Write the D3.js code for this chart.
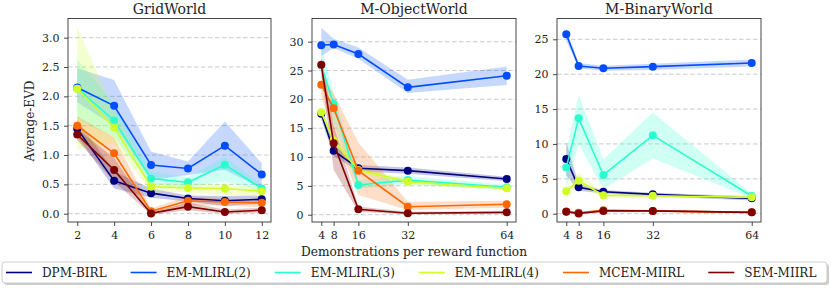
<!DOCTYPE html>
<html><head><meta charset="utf-8">
<script src="https://cdn.jsdelivr.net/npm/d3@7"></script>
<style>body{margin:0;background:#fff}svg text{font-family:"DejaVu Serif",serif;fill:#222}</style>
</head><body><svg id="c" width="831" height="288"></svg>
<script>
const seriesNames = ["DPM-BIRL","EM-MLIRL(2)","EM-MLIRL(3)","EM-MLIRL(4)","MCEM-MIIRL","SEM-MIIRL"];
const seriesColors = ["#000080","#004dff","#29ffce","#ceff29","#ff6800","#800000"];
const panelTitles = ["GridWorld","M-ObjectWorld","M-BinaryWorld"];

const gridX = [2,4,6,8,10,12];
const gridYTicks = [0,0.5,1,1.5,2,2.5,3];
const gridMean = [
  [1.45,0.56,0.35,0.26,0.22,0.245],
  [2.15,1.84,0.83,0.77,1.16,0.67],
  [2.13,1.59,0.60,0.535,0.835,0.43],
  [2.13,1.47,0.46,0.44,0.43,0.385],
  [1.50,1.03,0.04,0.22,0.20,0.185],
  [1.35,0.745,0.005,0.12,0.03,0.06]];
const gridLow = [
  [1.32,0.43,0.27,0.21,0.13,0.17],
  [1.90,1.50,0.57,0.66,0.75,0.43],
  [1.62,1.30,0.50,0.45,0.55,0.38],
  [1.10,1.20,0.38,0.36,0.32,0.31],
  [1.30,0.72,0.00,0.14,0.14,0.11],
  [1.25,0.55,-0.02,0.06,0.00,0.02]];
const gridHigh = [
  [1.60,0.72,0.43,0.31,0.30,0.31],
  [2.48,2.28,1.06,0.89,1.57,0.86],
  [2.63,1.88,0.72,0.62,0.97,0.49],
  [3.18,1.75,0.53,0.51,0.50,0.45],
  [1.66,1.30,0.09,0.30,0.26,0.25],
  [1.45,0.95,0.03,0.19,0.07,0.10]];

const objX = [4,8,16,32,64];
const objYTicks = [0,5,10,15,20,25,30];
const objMean = [
  [17.5,11.1,8.04,7.64,6.19],
  [29.4,29.5,27.86,22.08,24.1],
  [25.9,19.2,5.15,6.0,4.75],
  [17.75,12.9,7.75,5.73,4.57],
  [22.55,18.45,7.63,1.39,1.8],
  [26.0,12.4,0.93,0.24,0.41]];
const objLow = [
  [16.5,10.2,7.5,7.1,5.8],
  [27.5,28.9,27.05,21.1,22.5],
  [23.5,16.0,4.5,5.3,4.3],
  [17.0,11.5,7.2,5.2,4.3],
  [20.5,14.0,3.4,0.8,1.2],
  [24.5,7.8,0.5,0.05,0.2]];
const objHigh = [
  [18.5,12.0,8.6,8.2,6.6],
  [32.4,30.5,29.0,23.4,25.7],
  [29.5,21.0,6.0,6.7,5.2],
  [18.5,14.0,8.3,6.2,4.9],
  [24.5,21.0,12.5,2.25,2.4],
  [27.5,15.5,1.4,0.5,0.6]];

const binX = [4,8,16,32,64];
const binYTicks = [0,5,10,15,20,25];
const binMean = [
  [7.84,3.78,3.15,2.77,2.2],
  [25.72,21.18,20.84,21.08,21.6],
  [6.64,13.67,5.55,11.23,2.53],
  [3.2,4.73,2.63,2.58,2.34],
  [0.33,0.12,0.5,0.38,0.19],
  [0.29,0.02,0.4,0.4,0.19]];
const binLow = [
  [5.5,3.3,2.9,2.5,1.9],
  [24.8,20.8,20.5,20.6,21.1],
  [3.5,10.0,3.5,7.9,2.2],
  [2.8,3.8,2.4,2.35,2.1],
  [0.15,0.0,0.3,0.25,0.1],
  [0.15,-0.05,0.25,0.25,0.1]];
const binHigh = [
  [10.3,4.3,3.4,3.0,2.5],
  [26.5,21.6,21.2,21.5,22.1],
  [9.0,17.1,7.8,14.5,2.9],
  [3.6,5.9,2.9,2.8,2.6],
  [0.5,0.25,0.65,0.5,0.3],
  [0.45,0.1,0.55,0.55,0.3]];

const svg = d3.select("#c");
const plotTop = 18.5, plotBottom = 222;
const panels = [
  {x0:68, x1:271, xd:[1.5,12.5], yd:[-0.1415,3.327], xs:gridX, yt:gridYTicks, fmt:d3.format(".1f"), m:gridMean, lo:gridLow, hi:gridHigh},
  {x0:312, x1:516, xd:[1,67], yd:[-1.267,34.02], xs:objX, yt:objYTicks, fmt:d3.format("d"), m:objMean, lo:objLow, hi:objHigh},
  {x0:557, x1:761, xd:[1,67], yd:[-1.19,27.98], xs:binX, yt:binYTicks, fmt:d3.format("d"), m:binMean, lo:binLow, hi:binHigh}
];

panels.forEach((p,pi)=>{
  const x = d3.scaleLinear().domain(p.xd).range([p.x0,p.x1]);
  const y = d3.scaleLinear().domain(p.yd).range([plotBottom,plotTop]);
  const g = svg.append("g");
  const cid = "clip"+pi;
  g.append("clipPath").attr("id",cid).append("rect").attr("x",p.x0).attr("y",plotTop).attr("width",p.x1-p.x0).attr("height",plotBottom-plotTop);
  g.append("g").selectAll("line").data(p.yt).join("line")
    .attr("x1",p.x0).attr("x2",p.x1).attr("y1",d=>y(d)).attr("y2",d=>y(d))
    .attr("stroke","#c4c4c4").attr("stroke-width",0.9).attr("stroke-dasharray","4.5,2.5");
  const plot = g.append("g").attr("clip-path",`url(#${cid})`);
  const area = d3.area().x(d=>x(d.x)).y0(d=>y(d.lo)).y1(d=>y(d.hi));
  const line = d3.line().x(d=>x(d.x)).y(d=>y(d.v));
  seriesNames.forEach((s,si)=>{
    const pts = p.xs.map((xv,i)=>({x:xv,lo:p.lo[si][i],hi:p.hi[si][i]}));
    plot.append("path").attr("d",area(pts)).attr("fill",seriesColors[si]).attr("fill-opacity",0.22).attr("stroke","none");
  });
  seriesNames.forEach((s,si)=>{
    const pts = p.xs.map((xv,i)=>({x:xv,v:p.m[si][i]}));
    plot.append("path").attr("d",line(pts)).attr("fill","none").attr("stroke",seriesColors[si]).attr("stroke-width",1.6);
    plot.append("g").selectAll("circle").data(pts).join("circle")
      .attr("cx",d=>x(d.x)).attr("cy",d=>y(d.v)).attr("r",4).attr("fill",seriesColors[si]);
  });
  const ya = d3.axisLeft(y).tickValues(p.yt).tickFormat(p.fmt).tickSize(4).tickPadding(4.5);
  const xa = d3.axisBottom(x).tickValues(p.xs).tickFormat(d3.format("d")).tickSize(4).tickPadding(5.5);
  const gy = g.append("g").attr("transform",`translate(${p.x0},0)`).call(ya);
  const gx = g.append("g").attr("transform",`translate(0,${plotBottom})`).call(xa);
  [gy,gx].forEach(a=>{
    a.select(".domain").remove();
    a.selectAll("line").attr("stroke","#333").attr("stroke-width",0.9);
    a.selectAll("text").attr("font-size",11).attr("font-family","DejaVu Serif").attr("fill","#222");
  });
  g.append("rect").attr("x",p.x0).attr("y",plotTop).attr("width",p.x1-p.x0).attr("height",plotBottom-plotTop)
    .attr("fill","none").attr("stroke","#333").attr("stroke-width",0.9);
  g.append("text").attr("x",(p.x0+p.x1)/2).attr("y",13.5).attr("text-anchor","middle")
    .attr("font-size",14).text(panelTitles[pi]);
});

svg.append("text").attr("transform","translate(33.5,121) rotate(-90)").attr("text-anchor","middle")
  .attr("font-size",12).text("Average-EVD");
svg.append("text").attr("x",(panels[1].x0+panels[1].x1)/2).attr("y",256).attr("text-anchor","middle")
  .attr("font-size",12.2).text("Demonstrations per reward function");

const lg = svg.append("g");
lg.append("rect").attr("x",4).attr("y",264).attr("width",825).attr("height",21).attr("rx",3)
  .attr("fill","#999").attr("opacity",0.5);
lg.append("rect").attr("x",2).attr("y",262).attr("width",825).attr("height",21).attr("rx",3)
  .attr("fill","#fff").attr("stroke","#ccc").attr("stroke-width",1);
let lx = 6;
seriesNames.forEach((s,si)=>{
  lg.append("line").attr("x1",lx).attr("x2",lx+26).attr("y1",272.5).attr("y2",272.5)
    .attr("stroke",seriesColors[si]).attr("stroke-width",1.6);
  const t = lg.append("text").attr("x",lx+36).attr("y",277).attr("font-size",12).text(s);
  lx += 36 + t.node().getComputedTextLength() + 24;
});
</script></body></html>
